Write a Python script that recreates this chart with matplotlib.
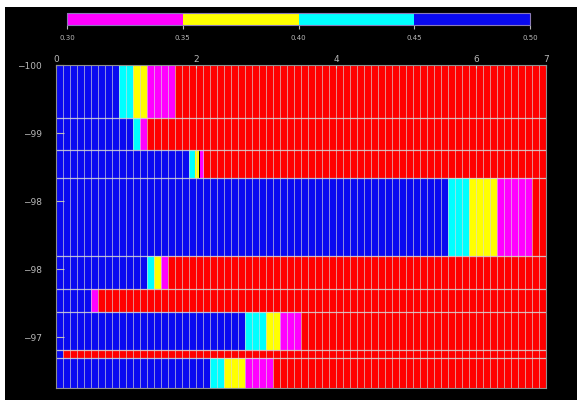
import matplotlib
matplotlib.use("Agg")
import matplotlib.pyplot as plt
import numpy as np
from matplotlib.colors import ListedColormap, BoundaryNorm
from matplotlib.colorbar import ColorbarBase
from matplotlib.patches import Rectangle

# row edges (top to bottom) along the y axis
y_edges = [-100.0, -99.42, -99.06, -98.75, -97.90, -97.53, -97.28, -96.86, -96.77, -96.44]

# where each colour band ends in each row (red fills up to x_max)
blue_end = [0.9, 1.1, 1.9, 5.6, 1.3, 0.5, 2.7, 0.1, 2.2]
cyan_end = [1.1, 1.2, 1.98, 5.9, 1.4, 0.5, 3.0, 0.1, 2.4]
yellow_end = [1.3, 1.2, 2.05, 6.3, 1.5, 0.5, 3.2, 0.1, 2.7]
magenta_end = [1.7, 1.3, 2.12, 6.8, 1.6, 0.6, 3.5, 0.1, 3.1]
x_max = 7.0

y_ticks = [-100.0, -99.25, -98.5, -97.75, -97.0]
y_ticklabels = ["\u2212100", "\u221299", "\u221298", "\u221298", "\u221297"]
x_ticks = [0, 2, 4, 6, 7]
x_ticklabels = ["0", "2", "4", "6", "7"]

cbar_bounds = [0.30, 0.35, 0.40, 0.45, 0.50]
cbar_labels = ["0.30", "0.35", "0.40", "0.45", "0.50"]

BLUE = "#0a0af0"
CYAN = "#00ffff"
YELLOW = "#ffff00"
MAGENTA = "#ff00ff"
RED = "#ff0000"
TXT = "#b8b8b8"

fig = plt.figure(figsize=(5.77, 4.05), dpi=100, facecolor="white")
fig.patches.append(Rectangle((5 / 577, 5 / 405), 1, (400 - 7) / 405,
                             transform=fig.transFigure, facecolor="black",
                             edgecolor="none", zorder=-10))

ax = fig.add_axes([56 / 577, 1 - 388 / 405, 490 / 577, 323 / 405])
ax.set_facecolor("black")

for i in range(len(blue_end)):
    y0 = y_edges[i]
    h = y_edges[i + 1] - y_edges[i]
    starts = [0, blue_end[i], cyan_end[i], yellow_end[i], magenta_end[i]]
    ends = [blue_end[i], cyan_end[i], yellow_end[i], magenta_end[i], x_max]
    for s, e, c in zip(starts, ends, [BLUE, CYAN, YELLOW, MAGENTA, RED]):
        if e > s:
            ax.barh(y0, e - s, left=s, height=h, align="edge", color=c,
                    edgecolor="none", linewidth=0)

# cell outlines
ax.vlines(np.arange(0.1, x_max, 0.1), y_edges[0], y_edges[-1],
          colors="#d8d8d8", linewidth=0.6, alpha=0.75)
ax.hlines(y_edges[1:-1], 0, x_max, colors="#d8d8d8", linewidth=0.9, alpha=0.85)

ax.set_xlim(0, x_max)
ax.set_ylim(y_edges[-1], y_edges[0])

ax.xaxis.tick_top()
ax.set_xticks(x_ticks)
ax.set_xticklabels(x_ticklabels)
ax.set_yticks(y_ticks)
ax.set_yticklabels(y_ticklabels)
ax.tick_params(axis="x", colors=TXT, labelsize=6.5, length=2, pad=1, direction="in")
ax.tick_params(axis="y", colors=TXT, labelsize=6.5, length=6, pad=10, direction="in")
for sp in ax.spines.values():
    sp.set_color("#909090")
    sp.set_linewidth(0.8)

cax = fig.add_axes([67 / 577, 1 - 25 / 405, 463 / 577, 12 / 405])
cmap = ListedColormap([MAGENTA, YELLOW, CYAN, BLUE])
norm = BoundaryNorm(cbar_bounds, cmap.N)
cb = ColorbarBase(cax, cmap=cmap, norm=norm, orientation="horizontal")
cb.set_ticks(cbar_bounds)
cb.set_ticklabels(cbar_labels)
cb.outline.set_edgecolor("#8a7ab8")
cb.outline.set_linewidth(0.8)
cax.tick_params(colors=TXT, labelsize=5, length=3, pad=4)

fig.savefig("out.png", dpi=100, facecolor=fig.get_facecolor())
